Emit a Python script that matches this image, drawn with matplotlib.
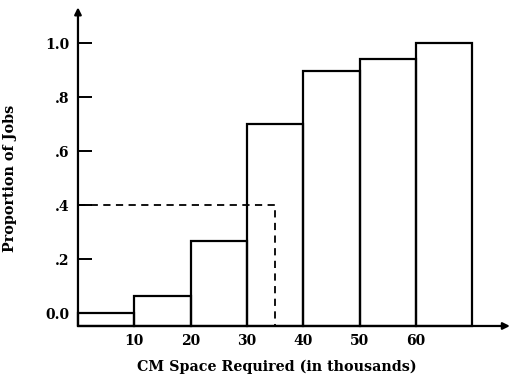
import matplotlib.pyplot as plt

# cumulative proportion of jobs by CM space (thousands)
bin_left = [0, 10, 20, 30, 40, 50, 60]
proportion = [0.0, 0.063, 0.267, 0.70, 0.897, 0.94, 1.0]
ytick_vals = [0.0, 0.2, 0.4, 0.6, 0.8, 1.0]
ytick_labels = ["0.0", ".2", ".4", ".6", ".8", "1.0"]
xtick_vals = [10, 20, 30, 40, 50, 60]
cutoff_x = 35
cutoff_y = 0.4

ymin, ymax = -0.048, 1.133
xmin, xmax = 0, 76.7

plt.rcParams["font.family"] = ["DejaVu Serif"]
plt.rcParams["font.weight"] = "bold"

fig = plt.figure(figsize=(5.13, 3.78), dpi=100)
ax = fig.add_axes([0.152, 0.1376, 0.842, 0.843])
ax.set_xlim(xmin, xmax)
ax.set_ylim(ymin, ymax)

heights = [p - ymin for p in proportion]
ax.bar(bin_left, heights, bottom=ymin, width=10, align="edge",
       fill=False, edgecolor="black", linewidth=1.6, clip_on=False)

# dashed guide at .4 / 35
ax.plot([xmin, cutoff_x, cutoff_x], [cutoff_y, cutoff_y, ymin],
        color="black", linestyle=(0, (4, 3)), linewidth=1.3)

for s in ax.spines.values():
    s.set_visible(False)

# axes with arrow heads
ax.annotate("", xy=(xmax, ymin), xytext=(xmin, ymin),
            arrowprops=dict(arrowstyle="-|>", color="black", lw=1.6,
                            mutation_scale=10, shrinkA=0, shrinkB=0),
            annotation_clip=False)
ax.annotate("", xy=(xmin, ymax), xytext=(xmin, ymin),
            arrowprops=dict(arrowstyle="-|>", color="black", lw=1.6,
                            mutation_scale=10, shrinkA=0, shrinkB=0),
            annotation_clip=False)

ax.set_yticks(ytick_vals)
ax.set_yticklabels(ytick_labels, fontsize=10, fontweight="bold")
ax.tick_params(axis="y", direction="in", length=10, width=1.4, pad=6)
ax.set_xticks(xtick_vals)
ax.set_xticklabels([str(v) for v in xtick_vals], fontsize=10, fontweight="bold")
ax.tick_params(axis="x", length=0, pad=6)

ax.set_xlabel("CM Space Required (in thousands)", fontsize=10.3,
              fontweight="bold")
ax.xaxis.set_label_coords(0.46, -0.105)
ax.set_ylabel("Proportion of Jobs", fontsize=10.3, fontweight="bold")
ax.yaxis.set_label_coords(-0.141, 0.464)

fig.savefig("out.png", dpi=100)
